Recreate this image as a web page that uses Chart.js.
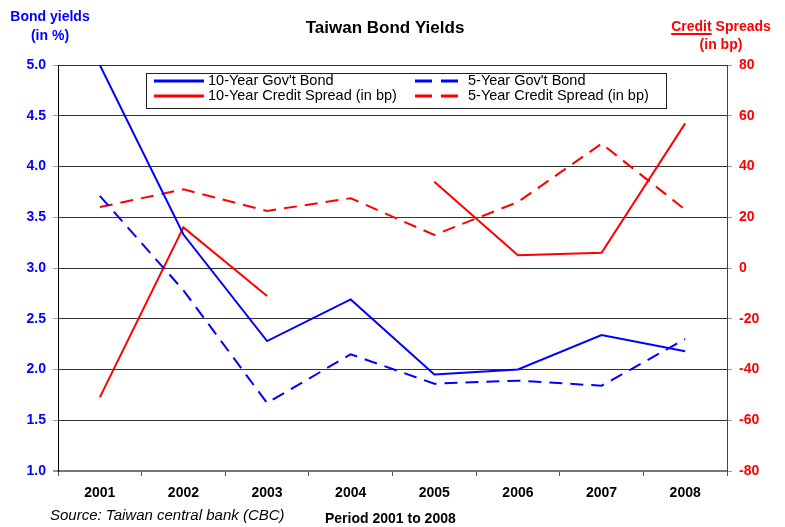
<!DOCTYPE html>
<html>
<head>
<meta charset="utf-8">
<script src="https://cdn.jsdelivr.net/npm/chart.js@4"></script>
<style>
  html, body { margin: 0; padding: 0; background: #fff; }
  #wrap { width: 785px; height: 527px; }
</style>
</head>
<body>
<div id="wrap"><canvas id="c" width="785" height="527"></canvas></div>
<script>
// Years on the horizontal axis
const years = ['2001', '2002', '2003', '2004', '2005', '2006', '2007', '2008'];

// Government bond yields, in percent (left axis)
const bond10y = [5.00, 3.33, 2.28, 2.69, 1.95, 2.00, 2.34, 2.18];
const bond5y  = [3.71, 2.78, 1.67, 2.15, 1.86, 1.89, 1.84, 2.30];

// Credit spreads, in basis points (right axis); no 10-year value for 2004
const spread10y = [-51, 16, -11, null, 34, 5, 6, 57];
const spread5y  = [24, 31, 22.5, 27.5, 13, 26, 49, 23];

// Axis ranges and series names
const yieldTicks = { min: 1.0, max: 5.0, step: 0.5 };
const spreadTicks = { min: -80, max: 80, step: 20 };
const seriesNames = ["10-Year Gov't Bond", "5-Year Gov't Bond",
                     "10-Year Credit Spread (in bp)", "5-Year Credit Spread (in bp)"];

const BLUE = '#0000ff';
const RED = '#ff0000';
const FONT = '"Liberation Sans", Arial, sans-serif';
const DASH = [13, 8];

// Boxed legend inside the plot plus titles and footnotes
const decorations = {
  id: 'decorations',
  afterDraw(chart) {
    const ctx = chart.ctx;
    ctx.save();
    ctx.textBaseline = 'middle';

    // main title
    ctx.fillStyle = '#000';
    ctx.font = 'bold 17px ' + FONT;
    ctx.textAlign = 'center';
    ctx.fillText('Taiwan Bond Yields', 385, 28);

    // left axis title
    ctx.fillStyle = BLUE;
    ctx.font = 'bold 14px ' + FONT;
    ctx.fillText('Bond yields', 50, 17);
    ctx.fillText('(in %)', 50, 36);

    // right axis title, first word underlined
    ctx.fillStyle = RED;
    ctx.textAlign = 'left';
    const full = 'Credit Spreads';
    const w = ctx.measureText(full).width;
    const x0 = 721 - w / 2;
    ctx.fillText(full, x0, 27);
    const cw = ctx.measureText('Credit').width;
    ctx.fillRect(x0, 33, cw, 2);
    ctx.textAlign = 'center';
    ctx.fillText('(in bp)', 721, 45);

    // footnotes
    ctx.fillStyle = '#000';
    ctx.textAlign = 'left';
    ctx.font = 'italic 15px ' + FONT;
    ctx.fillText('Source: Taiwan central bank (CBC)', 50, 516);
    ctx.font = 'bold 14px ' + FONT;
    ctx.fillText('Period 2001 to 2008', 325, 519);

    // legend box
    const bx = 146.5, by = 73.5, bw = 520, bh = 35;
    ctx.fillStyle = '#fff';
    ctx.fillRect(bx, by, bw, bh);
    ctx.strokeStyle = '#222';
    ctx.lineWidth = 1;
    ctx.strokeRect(bx, by, bw, bh);

    const ds = chart.data.datasets;
    const items = [
      { d: ds[0], x1: 154, x2: 204, tx: 208, y: 81 },
      { d: ds[2], x1: 154, x2: 204, tx: 208, y: 96 },
      { d: ds[1], x1: 415, x2: 458, tx: 468, y: 81 },
      { d: ds[3], x1: 415, x2: 458, tx: 468, y: 96 }
    ];
    ctx.font = '14.5px ' + FONT;
    items.forEach(it => {
      ctx.strokeStyle = it.d.borderColor;
      ctx.lineWidth = 3;
      ctx.setLineDash(it.d.borderDash && it.d.borderDash.length ? [17, 9] : []);
      ctx.beginPath();
      ctx.moveTo(it.x1, it.y);
      ctx.lineTo(it.x2, it.y);
      ctx.stroke();
      ctx.setLineDash([]);
      ctx.fillStyle = '#000';
      ctx.fillText(it.d.label, it.tx, it.y);
    });
    ctx.restore();
  }
};

new Chart(document.getElementById('c'), {
  type: 'line',
  data: {
    labels: years,
    datasets: [
      { label: seriesNames[0], data: bond10y, yAxisID: 'y',
        borderColor: BLUE, borderWidth: 2 },
      { label: seriesNames[1], data: bond5y, yAxisID: 'y',
        borderColor: BLUE, borderWidth: 2, borderDash: DASH },
      { label: seriesNames[2], data: spread10y, yAxisID: 'y1',
        borderColor: RED, borderWidth: 2 },
      { label: seriesNames[3], data: spread5y, yAxisID: 'y1',
        borderColor: RED, borderWidth: 2, borderDash: DASH }
    ]
  },
  options: {
    responsive: false,
    animation: false,
    devicePixelRatio: 1,
    spanGaps: false,
    elements: {
      point: { radius: 0, hoverRadius: 0 },
      line: { tension: 0, fill: false }
    },
    layout: { padding: { top: 65, left: 0, right: 0, bottom: 0 } },
    plugins: {
      legend: { display: false },
      title: { display: false },
      tooltip: { enabled: false }
    },
    scales: {
      x: {
        type: 'category',
        offset: true,
        grid: { offset: true, drawOnChartArea: false, drawTicks: true,
                tickLength: 5, tickColor: '#555', lineWidth: 1 },
        border: { color: '#777', width: 2 },
        ticks: { color: '#000', font: { family: FONT, size: 14, weight: 'bold' },
                 padding: 9, maxRotation: 0 },
        afterFit(scale) { scale.height = 56; }
      },
      y: {
        position: 'left',
        min: yieldTicks.min, max: yieldTicks.max,
        ticks: { stepSize: yieldTicks.step, color: BLUE,
                 font: { family: FONT, size: 14, weight: 'bold' },
                 padding: 7, callback: v => Number(v).toFixed(1) },
        grid: {
          color: ctx => ctx.tick && ctx.tick.value === yieldTicks.min ? '#777' : '#333',
          lineWidth: ctx => ctx.tick && ctx.tick.value === yieldTicks.min ? 2 : 1,
          tickColor: '#999', tickLength: 5
        },
        border: { color: '#000', width: 1 },
        afterFit(scale) { scale.width = 58; }
      },
      y1: {
        position: 'right',
        min: spreadTicks.min, max: spreadTicks.max,
        ticks: { stepSize: spreadTicks.step, color: RED,
                 font: { family: FONT, size: 14, weight: 'bold' }, padding: 7 },
        grid: { drawOnChartArea: false, tickColor: '#999', tickLength: 5 },
        border: { color: '#444', width: 1 },
        afterFit(scale) { scale.width = 58; }
      }
    }
  },
  plugins: [decorations]
});
</script>
</body>
</html>
